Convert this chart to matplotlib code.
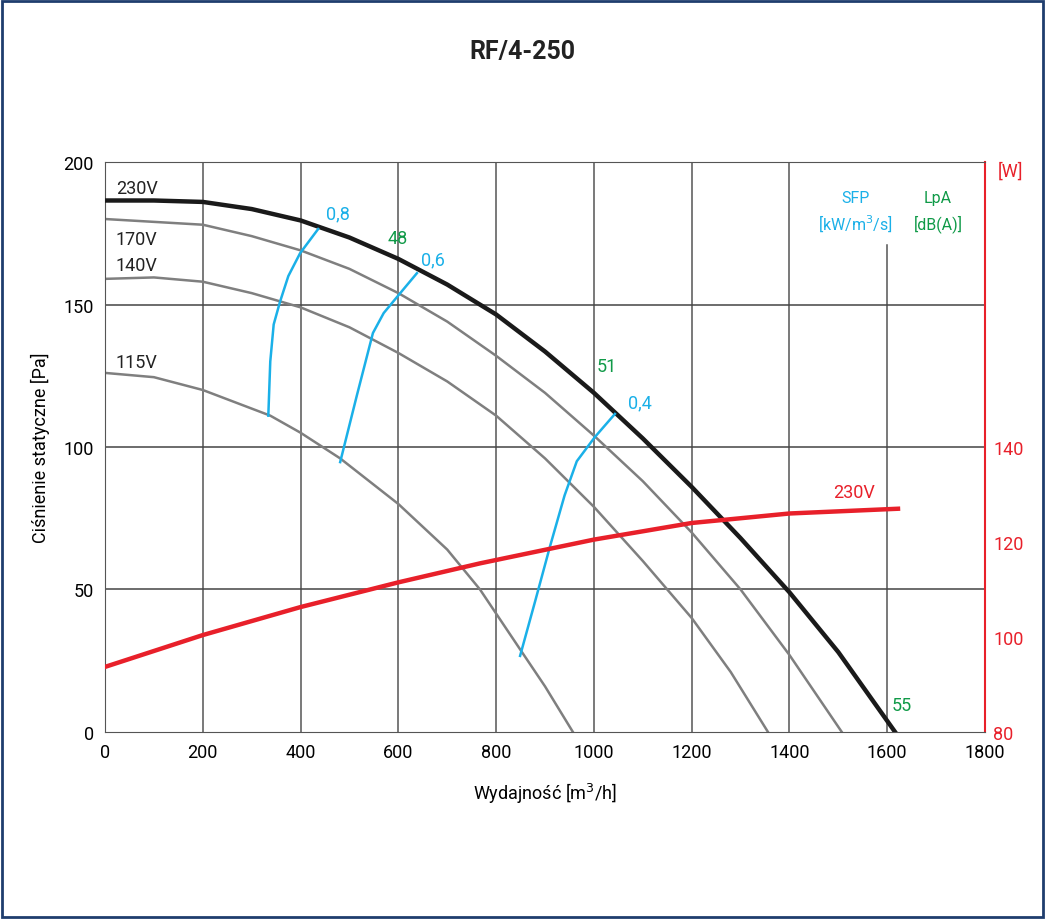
import matplotlib.pyplot as plt
import matplotlib.patches as patches

# fan curves: flow [m3/h] -> static pressure [Pa]
q_230 = [0, 100, 200, 300, 400, 500, 600, 700, 800, 900, 1000, 1100, 1200, 1300, 1400, 1500, 1616]
p_230 = [186.5, 186.5, 186, 183.5, 179.5, 173.5, 166, 157, 146.5, 133.5, 119, 103, 86, 68, 49, 28, 0]
q_170 = [0, 200, 300, 400, 500, 600, 700, 800, 900, 1000, 1100, 1200, 1300, 1400, 1507]
p_170 = [180, 178, 174, 169, 162.5, 154, 144, 132, 119, 104, 88, 70, 50, 27, 0]
q_140 = [0, 100, 200, 300, 400, 500, 600, 700, 800, 900, 1000, 1100, 1200, 1280, 1356]
p_140 = [159, 159.5, 158, 154, 149, 142, 133, 123, 111, 96, 79, 60, 40, 21, 0]
q_115 = [0, 100, 200, 338, 400, 481, 600, 700, 767, 849, 900, 957]
p_115 = [126, 124.5, 120, 111, 105, 96, 80, 64, 50, 29, 16, 0]

# SFP iso-lines
sfp08_q = [334, 338, 345, 358, 375, 399, 436]
sfp08_p = [111, 130, 143, 151, 160, 168, 176.5]
sfp06_q = [481, 515, 548, 570, 599, 638]
sfp06_p = [94.7, 118, 140, 147, 153, 161]
sfp04_q = [849, 880, 910, 940, 965, 1002, 1043]
sfp04_p = [26.7, 46, 65, 83, 95, 103.5, 111.6]

# power consumption [W] at 230V
q_pow = [0, 200, 400, 600, 767, 1000, 1200, 1400, 1622]
w_pow = [93.7, 100.4, 106.3, 111.5, 115.5, 120.5, 124, 126, 127]

grey = "#7f7f7f"
cyan = "#1ab0e8"
green = "#109a48"
red = "#e8202a"

plt.rcParams["font.family"] = ["Roboto", "DejaVu Sans"]
plt.rcParams["lines.solid_joinstyle"] = "round"

fig = plt.figure(figsize=(10.45, 9.2), dpi=100)
fig.patches.append(patches.Rectangle((0.002, 0.002), 0.996, 0.996, transform=fig.transFigure,
                                     fill=False, edgecolor="#1f3d6e", linewidth=2))
fig.text(0.5, 0.943, "RF/4-250", ha="center", va="center", fontsize=18, fontweight="bold", color="#222222")

ax = fig.add_axes([0.1005, 0.2033, 0.8421, 0.6195])
ax.set_xlim(0, 1800)
ax.set_ylim(0, 200)
ax.set_xticks(range(0, 1801, 200))
ax.set_yticks(range(0, 201, 50))
for x in range(200, 1600, 200):
    ax.axvline(x, color="#555555", linewidth=1.1, zorder=1)
ax.plot([1600, 1600], [0, 171], color="#555555", linewidth=1.1, zorder=1)
for y in range(50, 200, 50):
    ax.axhline(y, color="#444444", linewidth=1.1, zorder=1)
for s in ["top", "left", "bottom"]:
    ax.spines[s].set_color("#555555")
ax.spines["right"].set_color(red)
ax.spines["right"].set_linewidth(1.5)
ax.tick_params(labelsize=13, length=0, pad=8)

ax.plot(q_115, p_115, color=grey, linewidth=1.8, zorder=2)
ax.plot(q_140, p_140, color=grey, linewidth=1.8, zorder=2)
ax.plot(q_170, p_170, color=grey, linewidth=1.8, zorder=2)
ax.plot(q_230, p_230, color="#1a1a1a", linewidth=3.2, zorder=3)
for qq, pp in [(sfp08_q, sfp08_p), (sfp06_q, sfp06_p), (sfp04_q, sfp04_p)]:
    ax.plot(qq, pp, color=cyan, linewidth=1.8, zorder=4)

tk = dict(fontsize=13, va="center")
ax.text(22, 191, "230V", color="#222222", **tk)
ax.text(22, 173, "170V", color="#222222", **tk)
ax.text(22, 164, "140V", color="#222222", **tk)
ax.text(22, 130, "115V", color="#222222", **tk)
ax.text(452, 182, "0,8", color=cyan, **tk)
ax.text(647, 166, "0,6", color=cyan, **tk)
ax.text(1070, 115.5, "0,4", color=cyan, **tk)
ax.text(578, 173.5, "48", color=green, **tk)
ax.text(1005, 128.5, "51", color=green, **tk)
ax.text(1610, 9.5, "55", color=green, **tk)
ax.text(1535, 187.5, "SFP", color=cyan, fontsize=11.5, ha="center", va="center")
ax.text(1535, 178.5, "[kW/m$^3$/s]", color=cyan, fontsize=11.5, ha="center", va="center")
ax.text(1704, 187.5, "LpA", color=green, fontsize=11.5, ha="center", va="center")
ax.text(1704, 178.5, "[dB(A)]", color=green, fontsize=11.5, ha="center", va="center")

ax.set_xlabel("Wydajność [m$^3$/h]", fontsize=13, labelpad=14)
ax.set_ylabel("Ciśnienie statyczne [Pa]", fontsize=13, labelpad=10)

ax2 = ax.twinx()
ax2.set_ylim(80, 200)
ax2.set_yticks([80, 100, 120, 140])
ax2.tick_params(colors=red, labelsize=13, length=0, pad=6)
for s in ax2.spines.values():
    s.set_visible(False)
ax2.plot(q_pow, w_pow, color=red, linewidth=3.2, zorder=5)
ax2.text(1490, 130.5, "230V", color=red, **tk)
ax2.text(1.015, 0.985, "[W]", color=red, fontsize=13, transform=ax.transAxes, va="center")

fig.savefig("out.png", dpi=100)
